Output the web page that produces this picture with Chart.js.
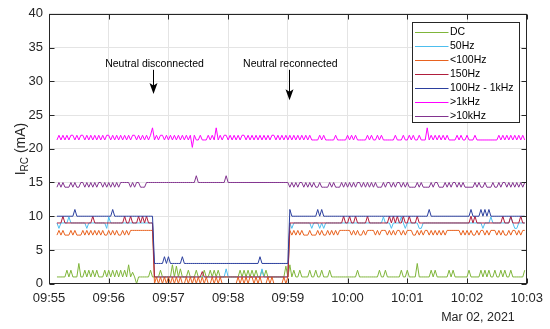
<!DOCTYPE html>
<html><head><meta charset="utf-8">
<script src="https://cdn.jsdelivr.net/npm/chart.js@4.4.1/dist/chart.umd.min.js"></script>
<style>html,body{margin:0;padding:0;background:#fff;}canvas{display:block;}</style>
</head><body>
<canvas id="c" width="550" height="329"></canvas>
<script>
// ---- data (sample times: seconds after 09:55:00, every 2 s from 09:55:08) ----
const startSec = 8, stepSec = 2;
const tickSecs = [0, 60, 120, 180, 240, 300, 360, 420, 480];
const timeLabels = ['09:55','09:56','09:57','09:58','09:59','10:00','10:01','10:02','10:03'];
const dateLabel = 'Mar 02, 2021';
const seriesNames = ['DC','50Hz','<100Hz','150Hz','100Hz - 1kHz','>1kHz','>10kHz'];
const events = [{label:'Neutral disconnected', sec:104.5}, {label:'Neutral reconnected', sec:241}];

const dc = [
1,1,1,1,1,2,1,2,1,1, 1,3,1,1,2,1,2,1,2,1, 2,1,1,1,2,1,2,1,2,1, 2,1,2,1,2,1,2.8,1,1.7,1,
0,1,1,1,1,1,1,2,1,1, 1,1,2,1,1,1,1,1,2.8,1, 2.6,1,2.2,1,1,1,2,1,1,1, 2,1,1,1,2,1,1,2,1,2,
1,2,1,1,1,1,1,1,1,1, 1,1,2,1,2,1,2,1,2,1, 2,1,1,2,1,2,1,1,1,1, 1,1,1,1,1,2.6,1,2.8,1,2,
1,1,2,1,1,1,1,2,1,1, 2,1,1,2,1,1,1,2,1,1, 1,1,1,1,1,1,1,1,1,1, 1,2,1,1,1,1,1,1,1,1,
1,1,2,1,1,2,1,1,1,1, 1,1,1,2,1,1,2,1,1,1, 1,3,1,1,1,1,1,1,2,1, 2,1,1,1,1,1,1,2,1,2,
1,1,1,1,1,1,1,2,1,1, 1,1,1,2,1,2,1,2,1,1, 2,1,1,2,1,2,1,1,2,1, 1,1,1,1,1,2
];
const f50 = [
9,8.2,9,9,9,9,9.9,9,9,9, 9,9,9,9,9,8.2,9,9,9,9, 9,9,9,9,9,8.2,9.9,9,9,9, 9,9,9,9,9,9,9,9,9,9,
9,9,9,9,9,9,9,9,9,1, 1,1,1,1,1,1,1,1,1,1, 1,1,1,1,1,1,1,1,1,1, 1,1,1,1,1,1,1,1,1,1,
1,1,1,1,1,2.2,1,1,1,1, 1,1,1,1,1,1,1,1,1,1, 1,1,1,2.2,1,1,1,1,1,1, 1,1,1,1,1,1,1,9,8.2,9,
9,9,9,9,9,9,9,9,8.2,9, 9,9,8.2,9,8.2,9,9,9,9,9, 9,9,9,9,9,9,9,9,9,9, 9,9,9,9,9,9,9,9,9,9,
9,9,9,9,9.9,9,9,9,8.2,9, 9,9,9,9.9,9,8.2,9,9,9,9, 9,9,8.2,8.2,9,9,9,9,9,9, 9,9,9,9,9,9,9,9,9,9,
9,9,9,9,9,9,9,9,9,9, 9,9,9,9,8.2,9,9,9,9.9,9, 9,9,9,9,9,9,9,9,9.9,9, 8.2,8.2,9,9,9,9
];
const lt100 = [
7.2,7.9,7.2,7.9,7.2,7.2,7.2,7.9,7.2,7.9, 7.2,7.2,7.2,7.9,7.2,7.9,7.2,7.9,7.2,7.9,
7.2,7.9,7.2,7.9,7.2,7.2,7.9,7.2,7.9,7.2, 7.9,7.2,7.2,7.9,7.2,7.9,7.2,7.9,7.9,7.9,
7.9,7.9,7.9,7.9,7.9,7.9,7.9,7.9,7.9,0, 1,0,1,0,1,0,1,0,1,0,
1,0,1,0,0,1,0,1,0,1, 0,1,0,1,0,1,0,0,1,0,
1,0,1,0,0,0,0,0,0,0, 0,1,0,1,0,1,0,1,1,0,
1,0,1,0,0,0,1,0,1,0, 0,0,0,0,1,0,1,7.9,7.2,7.9,
7.2,7.9,7.2,7.9,7.2,7.2,7.2,7.9,7.2,7.2, 7.2,7.9,7.2,7.9,7.2,7.2,7.9,7.2,7.9,7.2,
7.9,7.2,7.9,7.9,7.9,7.9,7.9,7.9,7.2,7.9, 7.2,7.9,7.2,7.2,7.9,7.2,7.9,7.9,7.9,7.9,
7.2,7.9,7.2,7.9,7.9,7.9,7.2,7.9,7.2,7.9, 7.2,7.9,7.9,7.2,7.9,7.2,7.9,7.9,7.9,7.2,
7.2,7.9,7.2,7.9,7.2,7.9,7.9,7.2,7.9,7.2, 7.9,7.2,7.9,7.2,7.9,7.2,7.9,7.9,7.9,7.9,
7.9,7.9,7.9,7.2,7.9,7.2,7.9,7.2,7.9,7.2, 7.2,7.9,7.2,7.9,7.9,7.2,7.9,7.2,7.9,7.9,
7.9,7.2,7.9,7.2,7.9,7.2,7.2,7.9,7.2,7.9, 7.9,7.2,7.9,7.2,7.9,7.9
];
const f150 = [
9,9,9,10,9,9,9,9,9,9, 9,9,9,9,9,9,9,9,10,9, 9,9,9,9,9,9,9,9,9,9, 9,9,9,9,10,9,9,10,9,9,
9,10,9,10,9,10,9,9,9,1, 1,1,1,1,1,1,1,1,1,1, 1,1,1,1,1,1,1,1,1,1, 1,1,1,1.8,1,1,1,1,1,1,
1,1,1,1,1,1,1,1,1,1, 1,1,1,1,1,1,1,1,1,1, 1,1,1,1,1,1,1,1,1,1, 1,1,1,1,1,1,1,9,9,9,
9,9,9,9,9,9,9,9,9,9, 9,9,9,9,9,9,9,9,9,9, 9,9,9,9,10,9,9,10,9,9, 10,9,9,9,9,9,10,9,9,9,
9,9,9,9,9,9,9,10,9,10, 9,10,9,9,10,9,9,10,9,9, 9,10,9,9,9,9,9,9,9,9, 9,9,9,9,9,9,9,9,9,9,
9,9,9,9,9,9,9,9,10,9, 10,9,9,9,9,9,9,9,9,9, 9,9,9,9,10,9,9,9,10,9, 9,9,9,10,9,9
];
const hf = [
10,10,10,10,10,10,10,10,10,11, 10,10,10,10,10,10,10,10,10,10, 10,10,10,10,10,10,10,10,11,10, 10,10,10,10,10,10,10,10,10,10,
10,10,10,10,10,10,10,10,10,3, 3,3,3,3,4,3,4,3,3,3, 3,3,3,4,3,3,3,3,3,3, 3,3,3,3,3,3,3,3,3,3,
3,3,3,3,3,3,3,3,3,3, 3,3,3,3,3,3,3,3,3,3, 3,3,4,3,3,3,3,3,3,3, 3,3,3,3,3,3,3,11,10,10,
10,10,10,10,10,10,10,10,10,10, 10,11,10,11,10,10,10,10,10,10, 10,10,10,10,10,10,10,10,10,10, 10,10,10,10,10,10,10,10,10,10,
10,10,10,10,10,10,10,10,10,10, 10,10,10,10,10,10,10,10,10,10, 10,10,10,10,10,10,10,11,10,10, 10,10,10,10,10,10,10,10,10,10,
10,10,10,10,10,10,10,10,11,10, 10,10,10,11,10,11,10,11,10,10, 10,10,10,10,10,10,10,10,10,10, 10,10,10,10,10,10
];
const gt1k = [
21.3,22,21.3,22,21.3,22,21.3,22,22,21.3, 22,21.3,22,22,21.3,22,21.3,22,21.3,22,
21.3,22,21.3,22,21.3,22,22,21.3,22,21.3, 22,21.3,22,21.3,22,21.3,22,21.3,22,22,
21.3,22,21.3,22,21.3,22,21.3,22,23.1,21.3, 22,21.3,22,22,21.3,22,21.3,22,21.3,22,
21.3,22,21.3,22,21.3,22,21.3,22,20.2,22, 21.3,21.3,22,21.3,21.3,21.3,22,21.3,22,21.3,
23.1,21.3,22,21.3,22,22,21.3,22,21.3,22, 21.3,22,21.3,22,22,21.3,22,21.3,22,21.3,
22,21.3,22,21.3,22,21.3,22,21.3,22,22, 21.3,22,21.3,22,21.3,22,21.3,22,21.3,22,
21.3,22,21.3,22,21.3,22,21.3,22,21.3,21.3, 21.3,21.3,22,21.3,22,21.3,21.3,21.3,21.3,21.3,
22,21.3,21.3,21.3,21.3,21.3,22,21.3,22,21.3, 22,21.3,21.3,21.3,21.3,21.3,22,21.3,22,21.3,
21.3,22,21.3,22,21.3,21.3,21.3,21.3,21.3,21.3, 22,21.3,21.3,21.3,22,21.3,21.3,22,21.3,22,
21.3,21.3,22,21.3,21.3,21.3,23.1,21.3,22,21.3, 22,21.3,22,21.3,22,21.3,22,21.3,21.3,21.3,
21.3,22,21.3,22,21.3,21.3,22,21.3,21.3,21.3, 22,21.3,21.3,21.3,21.3,21.3,21.3,21.3,21.3,21.3,
21.3,21.3,22,21.3,22,21.3,22,21.3,22,21.3, 22,21.3,22,21.3,22,21.3
];
const gt10k = [
14.3,15,14.3,15,14.3,14.3,14.3,15,14.3,15, 14.3,14.3,15,15,14.3,15,14.3,15,14.3,15,
14.3,15,15,14.3,15,14.3,15,14.3,15,14.3, 15,14.3,15,15,15,15,15,14.3,15,14.3,
15,15,14.3,14.3,14.3,15,15,15,15,15, 15,15,15,15,15,15,15,15,15,15,
15,15,15,15,15,15,15,15,15,15, 16,15,15,15,15,15,15,15,15,15,
15,15,15,15,15,16,15,15,15,15, 15,15,15,15,15,15,15,15,15,15,
15,15,15,15,15,15,15,15,15,15, 15,15,15,15,15,15,15,14.3,15,14.3,
15,14.3,15,15,14.3,15,14.3,15,14.3,15, 14.3,14.3,15,14.3,14.3,14.3,14.3,15,14.3,15,
14.3,14.3,14.3,15,14.3,15,14.3,15,14.3,15, 14.3,15,15,14.3,15,14.3,15,14.3,15,14.3,
15,14.3,14.3,14.3,15,14.3,15,15,14.3,15, 14.3,15,15,14.3,15,14.3,15,14.3,14.3,14.3,
14.3,15,14.3,15,14.3,14.3,14.3,14.3,15,14.3, 15,15,14.3,14.3,14.3,15,14.3,15,14.3,15,
15,14.3,15,14.3,15,14.3,14.3,14.3,14.3,14.3, 15,14.3,15,14.3,14.3,15,14.3,14.3,14.3,15,
14.3,14.3,15,14.3,15,15,14.3,15,14.3,15, 14.3,15,14.3,15,14.3,15
];
// ---------------------------------------------------------------
const seriesValues = [dc, f50, lt100, f150, hf, gt1k, gt10k];
const colors = ['#7FB53A','#4DBEEE','#E8621F','#B01E3C','#2B3F9E','#FF00FF','#82338F'];
const FONT = '"Liberation Sans", Arial, Helvetica, sans-serif';
const INK = '#262626';

const datasets = seriesValues.map((arr, k) => ({
  label: seriesNames[k],
  data: arr.map((v, j) => ({x: startSec + j * stepSec, y: v})),
  borderColor: colors[k],
  backgroundColor: colors[k],
  borderWidth: 1,
  pointRadius: 0,
  tension: 0,
  fill: false,
  order: -k
}));

const decor = {
  id: 'decor',
  afterDraw(chart) {
    const {ctx, chartArea: a, scales: {x, y}} = chart;
    ctx.save();
    // box
    const L = Math.round(a.left) + 0.5, R = Math.round(a.right) - 0.5;
    const T = Math.round(a.top) + 0.5, B = Math.round(a.bottom) - 0.5;
    ctx.strokeStyle = INK; ctx.lineWidth = 1;
    ctx.strokeRect(L, T, R - L, B - T);
    // inside ticks on all sides
    ctx.beginPath();
    tickSecs.forEach(v => {
      const px = Math.round(x.getPixelForValue(v)) + 0.5;
      ctx.moveTo(px, B); ctx.lineTo(px, B - 5);
      ctx.moveTo(px, T); ctx.lineTo(px, T + 5);
    });
    for (let v = 0; v <= 40; v += 5) {
      const py = Math.round(y.getPixelForValue(v)) + 0.5;
      ctx.moveTo(L, py); ctx.lineTo(L + 5, py);
      ctx.moveTo(R, py); ctx.lineTo(R - 5, py);
    }
    ctx.stroke();

    // date label
    ctx.fillStyle = INK;
    ctx.font = '12.5px ' + FONT;
    ctx.textAlign = 'center'; ctx.textBaseline = 'alphabetic';
    ctx.fillText(dateLabel, x.getPixelForValue(431), 321);

    // y-axis title I_RC (mA)
    ctx.save();
    ctx.translate(24.5, 149);
    ctx.rotate(-Math.PI / 2);
    ctx.textAlign = 'left';
    ctx.font = '14px ' + FONT;
    const w1 = ctx.measureText('I').width, w3 = ctx.measureText(' (mA)').width;
    ctx.font = '10px ' + FONT;
    const w2 = ctx.measureText('RC').width;
    let sx = -(w1 + w2 + w3) / 2;
    ctx.font = '14px ' + FONT; ctx.fillText('I', sx, 0); sx += w1;
    ctx.font = '10px ' + FONT; ctx.fillText('RC', sx, 3.5); sx += w2;
    ctx.font = '14px ' + FONT; ctx.fillText(' (mA)', sx, 0);
    ctx.restore();

    // event annotations
    ctx.font = '10.5px ' + FONT;
    ctx.textAlign = 'center'; ctx.textBaseline = 'middle';
    ctx.fillStyle = '#000'; ctx.strokeStyle = '#000';
    const tips = [28.1, 27.2];
    events.forEach((e, k) => {
      const px = x.getPixelForValue(e.sec);
      ctx.fillText(e.label, px + 1.5, y.getPixelForValue(32.6));
      const top = y.getPixelForValue(31.7), tip = y.getPixelForValue(tips[k]);
      const ax = Math.round(px) + 0.5;
      ctx.beginPath(); ctx.moveTo(ax, top); ctx.lineTo(ax, tip - 6); ctx.stroke();
      ctx.beginPath();
      ctx.moveTo(ax - 4, tip - 11); ctx.lineTo(ax, tip - 8.5); ctx.lineTo(ax + 4, tip - 11);
      ctx.lineTo(ax, tip); ctx.closePath(); ctx.fill();
    });

    // legend
    const bw = 107, bh = 100;
    const bx = Math.round(a.right - 7.8 - bw) + 0.5, by = Math.round(a.top + 7.7) + 0.5;
    ctx.fillStyle = '#fff'; ctx.fillRect(bx, by, bw, bh);
    ctx.strokeStyle = INK; ctx.lineWidth = 1; ctx.strokeRect(bx, by, bw, bh);
    ctx.font = '10.5px ' + FONT; ctx.textAlign = 'left'; ctx.textBaseline = 'middle';
    seriesNames.forEach((n, k) => {
      const yy = Math.round(by + 9.3 + 14.0 * k) + 0.5;
      ctx.strokeStyle = colors[k];
      ctx.beginPath(); ctx.moveTo(bx + 2.5, yy); ctx.lineTo(bx + 36, yy); ctx.stroke();
      ctx.fillStyle = '#000';
      ctx.fillText(n, bx + 37.5, yy);
    });
    ctx.restore();
  }
};

new Chart(document.getElementById('c'), {
  type: 'line',
  data: {datasets},
  options: {
    responsive: false, animation: false, devicePixelRatio: 1,
    layout: {padding: {left: 0, right: 19.5, top: 12.3, bottom: 0}},
    plugins: {legend: {display: false}, tooltip: {enabled: false}},
    scales: {
      x: {
        type: 'linear', min: 0, max: 480,
        afterBuildTicks: s => { s.ticks = tickSecs.map(v => ({value: v})); },
        afterFit: s => { s.height = 45.3; },
        ticks: {autoSkip: false, maxRotation: 0, minRotation: 0, padding: 7, color: INK,
          font: {family: FONT, size: 13},
          callback: (v, i) => timeLabels[i]},
        grid: {color: '#e4e4e4', drawTicks: false, lineWidth: 1},
        border: {display: false}
      },
      y: {
        min: 0, max: 40,
        afterFit: s => { s.width = 49; },
        ticks: {stepSize: 5, padding: 6, color: INK, font: {family: FONT, size: 13}},
        grid: {color: '#e4e4e4', drawTicks: false, lineWidth: 1},
        border: {display: false}
      }
    }
  },
  plugins: [decor]
});
</script>
</body></html>
